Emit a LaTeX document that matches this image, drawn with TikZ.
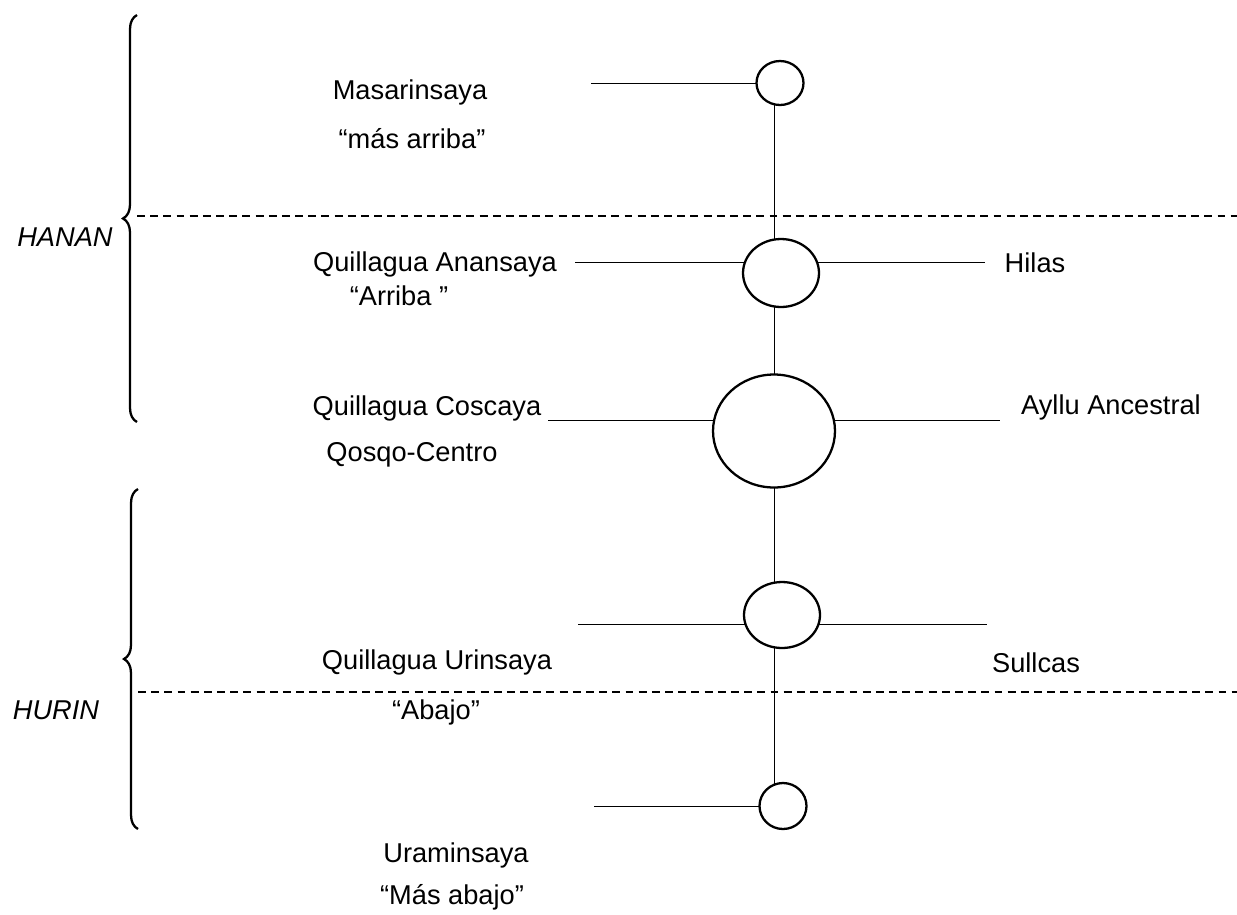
\documentclass[tikz,border=0pt]{standalone}
\usepackage{fontspec}
\setmainfont{Liberation Sans}
\usetikzlibrary{shapes.geometric,decorations.pathreplacing,backgrounds}

\begin{document}
\begin{tikzpicture}[x=0.02cm,y=-0.02cm,line width=1.3pt,
        lbl/.style={font=\fontsize{15.5}{18}\selectfont, inner sep=0pt},
        sidelbl/.style={font=\fontsize{15.5}{18}\selectfont\itshape, inner sep=0pt},
        ring/.style={ellipse, draw, fill=white, inner sep=0pt},
        divider/.style={line width=1.4pt, dash pattern=on 4.5pt off 3pt},
        curly/.style={decorate, decoration={brace, amplitude=0.28cm}}]
        \useasboundingbox (0,0) rectangle (1237,914);%

        % Marking the circles
        \node [ring, minimum width=0.94cm, minimum height=0.88cm] (c1) at (780,83) {};%
        \node [ring, minimum width=1.52cm, minimum height=1.36cm] (c2) at (781,273) {};%
        \node [ring, minimum width=2.44cm, minimum height=2.26cm] (c3) at (774,431) {};%
        \node [ring, minimum width=1.52cm, minimum height=1.32cm] (c4) at (782,615) {};%
        \node [ring, minimum width=0.94cm, minimum height=0.92cm] (c5) at (783,806) {};%

        % Marking the free ends of the lines
        \coordinate (l1) at (591,83);%
        \coordinate (l2) at (575,262);%
        \coordinate (r2) at (985,262);%
        \coordinate (l3) at (548,420);%
        \coordinate (r3) at (1000,420);%
        \coordinate (l4) at (578,624);%
        \coordinate (r4) at (987,624);%
        \coordinate (l5) at (594,806);%
        \coordinate (d1) at (137,216);%
        \coordinate (d1e) at (1237,216);%
        \coordinate (d2) at (138,692);%
        \coordinate (d2e) at (1237,692);%

        % Drawing the lines behind the circles
        \begin{scope}[on background layer]
        \draw (c1.center -| c3) -- (c5.center -| c3);%
        \draw (l1) -- (l1 -| c1);%
        \draw (l2) -- (l2 -| c2) -- (r2);%
        \draw (l3) -- (l3 -| c3) -- (r3);%
        \draw (l4) -- (l4 -| c4) -- (r4);%
        \draw (l5) -- (l5 -| c5);%
        \draw [divider] (d1) -- (d1e);%
        \draw [divider] (d2) -- (d2e);%
        \end{scope}

        % Drawing the braces
        \draw [curly] (137,422) -- (137,15);%
        \draw [curly] (138,829) -- (138,489);%
        \node [sidelbl] (hanan) at (65,237) {HANAN};%
        \node [sidelbl] (hurin) at (56,710) {HURIN};%

        % Labels on the left
        \node [lbl] (masa) at (410,92) {Masarinsaya};%
        \node [lbl] (masaq) at (412,139) {“más arriba”};%
        \node [lbl] (anan) at (435,264) {Quillagua Anansaya};%
        \node [lbl] (ananq) at (399,296) {“Arriba ”};%
        \node [lbl] (cosc) at (427,408) {Quillagua Coscaya};%
        \node [lbl] (qosqo) at (412,455) {Qosqo-Centro};%
        \node [lbl] (urin) at (437,662) {Quillagua Urinsaya};%
        \node [lbl] (urinq) at (436,712) {“Abajo”};%
        \node [lbl] (uram) at (456,855) {Uraminsaya};%
        \node [lbl] (uramq) at (452,897) {“Más abajo”};%

        % Labels on the right
        \node [lbl] (hilas) at (1035,263) {Hilas};%
        \node [lbl] (ayllu) at (1111,407) {Ayllu Ancestral};%
        \node [lbl] (sullcas) at (1036,663) {Sullcas};%
    \end{tikzpicture}
\end{document}
